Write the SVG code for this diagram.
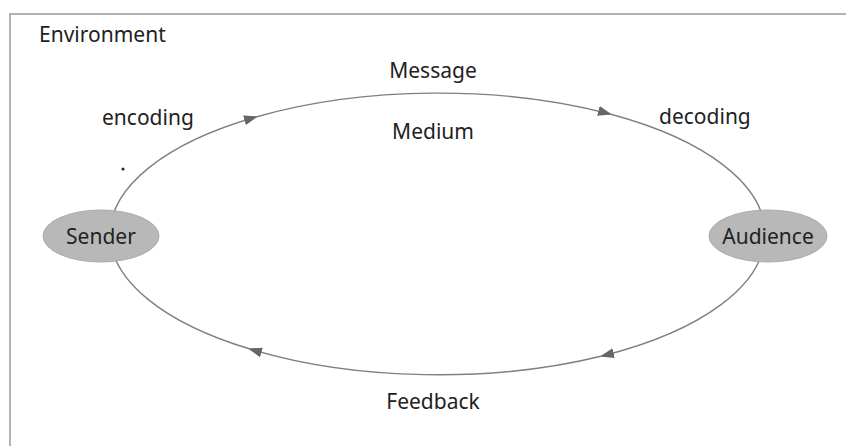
<svg xmlns="http://www.w3.org/2000/svg" width="846" height="446" viewBox="0 0 846 446">
<defs>
<style>
.t{font-family:"Noto Sans","Open Sans",sans-serif;font-size:21px;fill:#222}
.c{text-anchor:middle}
.e{fill:none;stroke:#808080;stroke-width:1.4}
.n{fill:#b8b8b8;stroke:#aaa;stroke-width:1}
</style>
<marker id="ah" viewBox="0 0 14 10" refX="12" refY="5" markerWidth="14" markerHeight="10" markerUnits="userSpaceOnUse" orient="auto">
<path d="M0,0 L14,5 L0,10 Z" fill="#666"/>
</marker>
</defs>
<rect width="846" height="446" fill="#fff"/>
<g id="environment">
<path d="M10,446 V14 H846" fill="none" stroke="#999" stroke-width="1.5"/>
<text class="t" x="39" y="42">Environment</text>
<circle cx="123" cy="169" r="1.5" fill="#222"/>
</g>
<g id="connectors">
<path class="e" d="M110,234 A327.5,141 0 0 1 256,117" marker-end="url(#ah)"/>
<path class="e" d="M256,117 A327.5,141 0 0 1 610,114" marker-end="url(#ah)"/>
<path class="e" d="M610,114 A327.5,141 0 0 1 765,234"/>
<path class="e" d="M765,234 A327.5,141 0 0 1 602,356" marker-end="url(#ah)"/>
<path class="e" d="M602,356 A327.5,141 0 0 1 250,349" marker-end="url(#ah)"/>
<path class="e" d="M250,349 A327.5,141 0 0 1 110,234"/>
<text class="t c" x="433" y="78">Message</text>
<text class="t" x="102" y="125">encoding</text>
<text class="t c" x="433" y="139">Medium</text>
<text class="t" x="659" y="124">decoding</text>
<text class="t c" x="433" y="409">Feedback</text>
</g>
<g id="sender">
<ellipse class="n" cx="101" cy="236" rx="58" ry="26"/>
<text class="t c" x="101" y="244">Sender</text>
</g>
<g id="audience">
<ellipse class="n" cx="768" cy="236" rx="59" ry="26"/>
<text class="t c" x="768" y="244">Audience</text>
</g>
</svg>
